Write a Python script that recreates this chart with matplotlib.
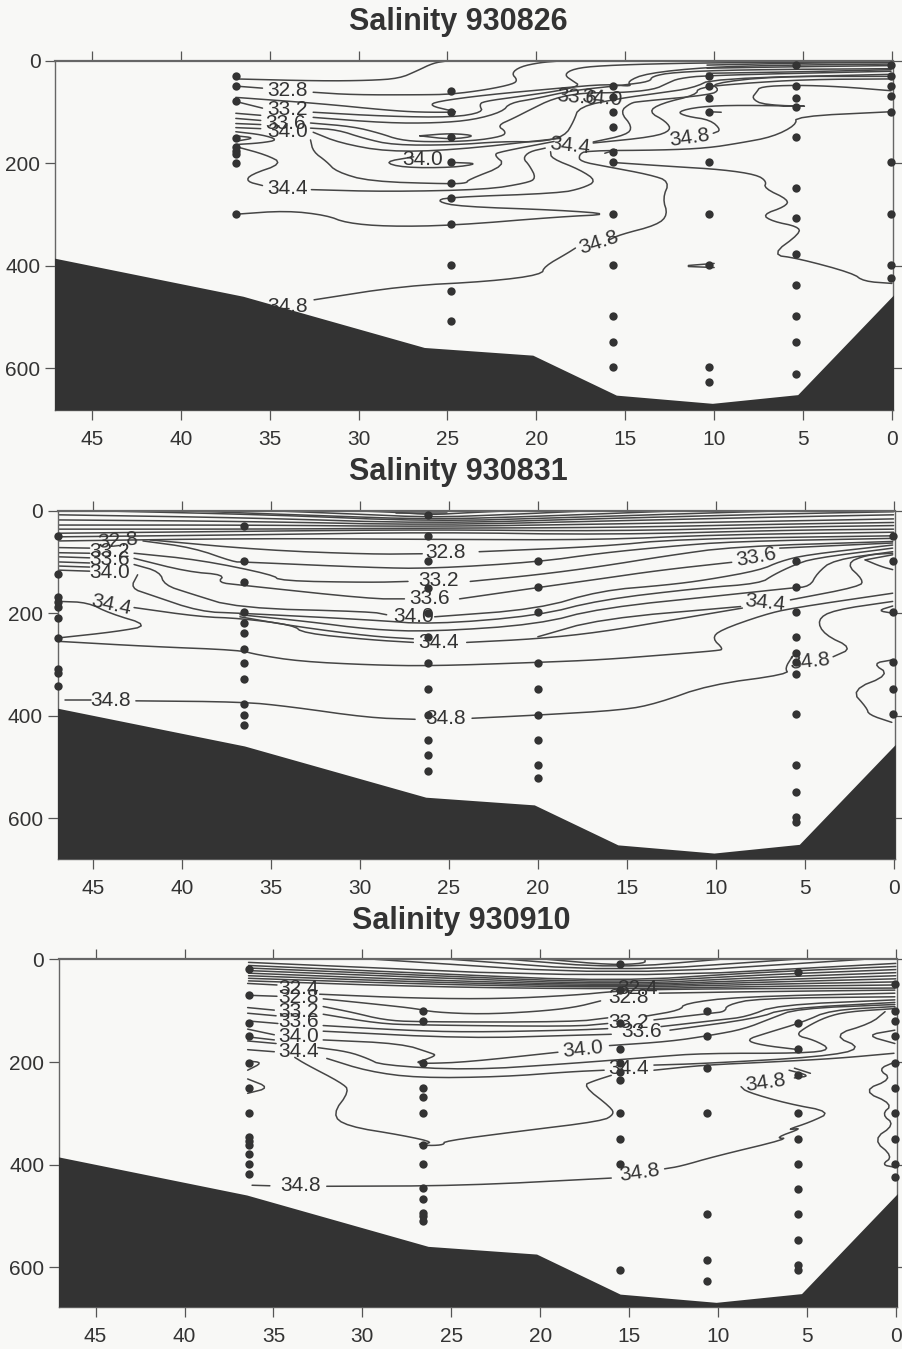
import numpy as np
import matplotlib
matplotlib.use("Agg")
import matplotlib.pyplot as plt

plt.rcParams['font.family'] = ['Liberation Sans', 'DejaVu Sans']

INK = '#333333'
LINE = '#454545'
PAPER = '#f8f8f6'
W, H = 903, 1349

TITLES = ['Salinity 930826', 'Salinity 930831', 'Salinity 930910']
KM_TICKS = [45, 40, 35, 30, 25, 20, 15, 10, 5, 0]
DEPTH_TICKS = [0, 200, 400, 600]
BOTTOM_KM = [47.2, 36.5, 26.3, 20.2, 15.5, 10.1, 5.3, -0.1]
BOTTOM_DEPTH = [384, 459, 559, 574, 652, 668, 651, 456]

# station samples: km -> depths
ST1 = {36.9: [30, 49, 79, 150, 167, 175, 181, 200, 299],
       24.8: [58, 99, 149, 198, 238, 268, 318, 398, 449, 507],
       15.7: [49, 70, 99, 128, 178, 198, 298, 398, 497, 548, 598],
       10.3: [29, 48, 73, 99, 198, 299, 398, 598, 627],
       5.4: [8, 48, 73, 89, 148, 248, 307, 377, 437, 497, 548, 610],
       0.05: [8, 29, 48, 68, 99, 198, 298, 398, 423]}
ST2 = {47.0: [49, 124, 169, 179, 187, 209, 249, 308, 317, 343],
       36.5: [30, 99, 140, 198, 220, 238, 269, 298, 328, 378, 399, 418],
       26.2: [8, 49, 99, 150, 200, 247, 298, 347, 399, 448, 477, 507],
       20.0: [99, 148, 197, 298, 347, 399, 448, 497, 522],
       5.5: [98, 148, 198, 247, 277, 295, 319, 397, 496, 548, 597, 607],
       0.05: [49, 98, 197, 296, 347, 397]}
ST3 = {36.4: [19, 70, 125, 150, 202, 250, 299, 347, 354, 362, 379, 398, 418],
       26.6: [101, 120, 201, 250, 269, 299, 361, 398, 445, 466, 494, 499, 509],
       15.5: [10, 60, 124, 174, 201, 220, 235, 299, 349, 398, 605],
       10.6: [101, 150, 211, 299, 496, 585, 626],
       5.5: [24, 125, 175, 225, 299, 349, 398, 447, 496, 546, 596, 606],
       0.05: [49, 101, 120, 150, 202, 250, 299, 349, 398, 424]}

# isohalines as (km, depth); None breaks the line where a label sits
C1 = [
 [(36.9,35),(32.2,39),(29.4,38),(27.7,34),(26.7,19),(25.8,4),(25.05,0)],
 [(36.9,49),(35.4,53),None,(32.55,61),(30.3,66),(26.55,66),(24.8,65),(22.8,56),(21.3,45),(21.06,37),(21.4,24),(20.9,11),(19.8,3),(18.7,0)],
 [(36.9,71),(32.2,83),(28.4,96),(26.55,100),(24.4,100),(24.8,97),(26,87),(25.6,79),(22.8,66),(18.7,53),(16,45),(14.6,50),(14.9,40),(13.8,24),(10.4,12),(6,8),(0.05,6)],
 [(36.9,79),(35.4,92),None,(32.55,100),(28.4,108),(24.7,110),(23,100),(23.2,86),(23,79),(20.9,69),(18.7,58),(17.55,48),(17.9,40),(18.45,27),(17.9,15),(16.4,9),(12.3,4.5),(6.7,2.6),(0.05,1.3)],
 [(36.9,102),(35.5,106),None,(32.55,110),(28.4,121),(25.6,121),(23.55,115),(21.9,99),(21.5,82),(20,73),(18.7,63),(17.55,56),(15.1,47),(13.6,40),(13.5,30),(12.3,22),(8.55,17),(0.05,15)],
 [(36.9,112),(35.5,116),None,(32.7,121),(30.3,128),(28.8,141),(27.7,154),(26.2,158),(23.55,156),(21.9,147),(21.7,138),(22.2,126),(21.3,112),(20.4,96),(19.05,73),(17.4,62),(15.3,62),(13.4,56),(12.6,43),(12,34),(10.4,28),(0.05,20)],
 [(36.9,122),(35.5,124),None,(32.7,131),(31.2,134),(29.7,151),(28.05,164),(24.7,164),(21.9,157),(19.8,158),(18.4,147),(17.9,118),(17.6,89),(15.3,73),(13.2,63),(11.2,53),(10.05,34),(0.05,26)],
 [(36.9,130),(35.5,132),None,(32.55,139),(31.05,160),(28.4,177),(24.7,174),(18.7,151),None,(16.8,158),(14.9,144),(14.6,128),(15.3,99),(14.7,82),(14.2,79),(10.2,66),(9.7,56),(10.2,44),(6.7,30),(0.05,30)],
 [(16.8,160),(13.4,148),(12.4,135),(12.7,118),(13.7,99),(13,83),(11,66),(10.9,52),(8.55,44),(4.8,36),(0.05,35)],
 [(10.4,8),(5,4),(0.05,3)],[(10.4,14),(5,11),(0.05,9)],[(10.4,24),(5,21),(0.05,17)],
 [(0.05,58),(2.9,50),(5.4,47),(7.4,50),(7.6,60),(7.9,73),(7.2,86),(4.05,89),(8.55,86),(10.8,89),(12.1,99),(11.55,108),(10.2,115),(9.6,135),(10.05,141)],
 [(0.05,99),(5.4,108),(5.4,125),(6.7,148),(8.55,160),(10.4,170),(13,174),(17.2,175),(17.6,183),(17.55,196),(16.05,206),(13.6,222),(12.5,235),(12.9,268),(12.6,300),(13.2,320),(15.3,339),(15.9,349),None,(17.8,365),(18.25,375),(19.55,401),(19.7,417),(22.6,430),(27.5,439),(32.5,466)],
 [(15.7,198),(12.3,206),(9.5,212),(7.6,222),(7.05,235),(7.2,248),(5.8,271),(6,284),(7.3,300),(6.7,313),(5.3,323),(5.15,336),(6.8,378),(5.3,385),(2.2,414),(1.6,430),(0,434)],
 [(36.9,299),(34.05,292),(31.8,301),(30.7,316),(28.4,323),(24.7,321),(18.7,304),(15.7,299),(18.7,291),(24.3,284),(25.6,274),(25.05,266),(18.7,258),(17.4,248),(16.6,234),(17.55,212),(19.15,190),(19.2,177)],
 [(32.65,251),(28.4,255),(22.8,251),(20.55,238),(20,229),(20.4,203),(20.75,190),(20.4,177),(19.5,170)],
 [(35.4,243),(36.3,235),(36.1,222),(34.25,200),(35.2,183),(36.9,167)],
 [(32.7,154),(32.55,177),(31.8,196),(31.25,216),(29.4,235),(24.8,240),(23.9,238),(23.85,232),(21.7,203),(22.4,183),(22,177),(19,157)],
 [(36.9,163),(35.5,160),(34.5,154),(35.4,144),(36.9,138)],
 [(36.9,146),(35.8,150),(36.8,156)],
 [(26.55,146),(24.8,141),(23.3,146),(24.8,153),(26.55,146)],
 [(26.9,187),(28.6,197),(27.5,208),(24.7,208),(23.2,200),(24.7,198)],
 [(11.45,399),(10,395)],[(11.45,401),(10,403)],
 [(10.3,99),(9.6,100)],[(16.15,180),(15.5,173)],
]
C2 = [
 [(30.5,0),(28,3),(26,8),(24,4),(21.5,0)],
 [(28,5),(25.1,5)],
 [(35,0),(30,7),(26,13),(22,8),(17,0)],
 [(40,0),(32,10),(26,17),(20,11),(12,0)],
 [(45,0),(35,8),(26,21),(18,13),(10,4),(6,0)],
 [(47,8),(36,14),(26,25),(16,15),(6,6),(0,2)],
 [(47,18),(36,21),(26,28),(16,20),(6,12),(0,8)],
 [(47,28),(36,28),(26,31),(16,26),(6,20),(0,16)],
 [(47,36),(36,36),(26,34),(16,33),(6,26),(0,23)],
 [(47,44),(36,40),(26,37),(16,40),(6,32),(0,29)],
 [(47,51),(36,47),(26,42),(16,47),(6,38),(0,36)],
 [(46.9,59),(36,54),(26,56),(16.5,57),(10,47),(0,42)],
 [(46.9,72),(45.2,73),None,(41.8,57),(35.4,77),(29.4,85),(26.5,84),None,(23.3,80),(16.5,70),(12,55),(0,49)],
 [(46.9,82),(45.2,83),None,(42.2,59),(39.4,72),(37.1,100),(36.6,100),(29.4,111),(26,113),(20,100),(16.5,83),(12.75,70),(9,60),(0.05,54)],
 [(46.9,90),(45.2,92),None,(42.7,83),(39,96),(34.9,125),(34.5,137),(29.4,140),(27.3,138),None,(23.8,138),(20,125),(16.5,109),(12.75,88),(9,70),(0.05,60)],
 [(46.9,100),(45.2,102),None,(42.7,93),(39.7,119),(37.6,125),(38,140),(36.75,145),(29.4,172),(27.5,172),None,(24.4,172),(20,150),(16.5,133),(13.1,116),(9.1,100.7),None,(6.4,73),(0.05,63)],
 [(46.9,108),(45.2,110),None,(42.7,105),(41.25,119),(41,145),(39.6,161),(36.9,190),(29.4,197),(28.5,203),None,(25.8,207),(20,192),(16.5,156),(12.75,145),(10.5,135),(7.5,116),(6.4,99),(4.9,86),(0.05,67)],
 [(46.9,116),(45.2,118),None,(42.5,125),(42.9,151),(41.8,164),(39,197),(36.75,200),(29.4,213),(26,222),(20,205),(16.5,174),(10.9,151),(7.5,142),(6.75,125),(5.6,106),(4.5,93),(0.05,73)],
 [(36.75,203),(33,216),(29.4,232),(26,236),(20,222),(16.5,190),(9,163),(5.8,151),(4.7,148),(4.3,122),(3.4,96),(0.05,80)],
 [(36.75,207),(33.6,226),(29.4,245),(27,250),None,(20,246),(16.5,211),(8.6,187),None,(5.8,174),(1.9,148),(1.7,135),(2.7,103),(1.5,86),(0.05,83)],
 [(42.7,189),(39,207),(36.75,210),(33.75,223),(33.2,239),(29.4,252),(27,257),None,(24,257),(20,250),(16.5,237),(12.75,215),(8.5,190)],
 [(1.6,96),(0.7,109),(0.05,115)],[(1.6,96),(0.05,86)],
 [(46.9,177),(45.3,179),(44.1,200),(41.8,224),(43.7,236),(46.9,248)],
 [(46.9,255),(41.8,265),(36.75,272),(35.8,281),(33.4,294),(29.4,301),(26,303),(20,296),(16.5,291),(12.75,281),(9.9,273),(9.56,270),(10.2,249),(9.75,233),(7.3,203),(5.7,190),(0.05,161)],
 [(46.6,369),(45.1,369),None,(42.6,371),(36.6,373),(34,382),(29.5,404),(26.9,407),None,(23.7,405),(20.1,399),(15.2,389),(13.3,376),(10.4,340),(5.9,319),(6.1,307),(5.7,285)],
 [(0.05,177),(3.4,194),(4.3,213),(3.9,242),(2.3,268),(3.4,285)],
 [(0.05,291),(1.2,298),(0.2,320),(2.4,350),(1.5,385),(1.4,398),(0.1,413)],
 [(0.05,186),(0.9,195),(0.05,200)],
]
C3 = [
 [(19.6,0),(16,11),(14.1,8),(14.1,0)],
 [(21.8,0),(15.7,17),(9.9,0)],
 [(25,0),(15.7,24),(5.7,0)],
 [(29.3,0),(15.7,31),(1.8,0)],
 [(36.4,6),(15.7,37),(0,8)],
 [(36.4,12),(26,28),(15.7,43),(8,26),(0,14)],
 [(36.4,17),(26,32),(15.7,46),(8,31),(0,20)],
 [(36.4,22),(26,36),(15.7,49),(8,36),(0,26)],
 [(36.4,27),(26,41),(15.7,51),(8,41),(0,32)],
 [(36.4,32),(26,45),(15.7,53),(8,45),(0,38)],
 [(36.4,37),(26,49),(15.7,55),(8,49),(0,44)],
 [(36.4,42),(26,54),(15.7,58),(8,53),(0,50)],
 [(36.45,47),(34.8,50),None,(32.4,68),(26.9,76),(22.2,77),(18.1,70),(15.7,62),(13,58),(0.05,56)],
 [(36.45,70),(34.8,72),None,(32.2,77),(28.8,89),(27,96),(25.95,103),(23.3,107),(20.3,102),(18.1,94),(16.6,81),None,(13.3,66),(8,63),(0.05,60)],
 [(36.45,94),(34.95,99),None,(32.2,92),(30.6,103),(28.8,118),(27,122),(18.1,122),(16.2,114),None,(14.1,111),(12.1,99),(11.9,86),(8.9,73),(0.05,66)],
 [(36.45,105),(34.85,110),None,(32.2,107),(29.1,125),(26.9,128),(18.1,131),(16.2,125),None,(13.6,118),(10.4,105),(9.6,102),(9.5,89),(7.8,76),(0.05,73)],
 [(36.45,120),(34.75,125),None,(32.2,129),(27.8,138),(24.1,142),(18.1,138),(16.2,135),None,(13.2,131),(9.9,118),(8.4,112),(6.7,89),(0.05,79)],
 [(36.45,136),(34.95,147),None,(32.2,140),(24.1,154),(18.1,148),(16,146),None,(12.7,138),(7.8,115),(6.3,96),(0.05,84)],
 [(36.45,151),(34.95,157),None,(32.2,157),(27.8,164),(26.1,183),(25.85,187),(26.5,196),(27,201),(26.4,203),(24.1,200),(19,181),None,(16.1,168),(12.7,160),(10.4,148),(8.55,136),(7,115),(5.55,96),(0.05,88)],
 [(0.05,92),(3.7,99),(5.2,122),(7.3,144),(8.45,157),(7.6,167),(5.45,176)],
 [(0.05,96),(2.7,102),(3.9,112),(5,131),(5.65,148),(4.6,157),(3.6,176),(5.2,183),(10.8,183),(13.6,190),(18.3,203),(24.1,216),(28.95,206),(29.7,193),(30.8,180),(32.5,172)],
 [(36.45,159),(34.85,164)],
 [(0.6,102),(1.4,125),(3.6,148),(1.8,174),(4.2,190),(10.8,203),(13.6,206),None,(16.4,216),(18.3,219),(22.2,229),(26.9,231),(29.7,218),(32,193)],
 [(36.45,176),(34.95,180)],
 [(0.05,138),(1.7,148),(0.05,164)],
 [(0.1,183),(3.3,193),(7,200),(10.8,206),(13.6,216),None,(16,226),(17,237),(17.6,246),(16,289),(15.85,302),(16.5,315),(21.2,335),(25.4,354),(25.4,361),(26.2,363),(27,360),(25.9,357),(27.7,343),(30.9,325),(31.7,302),(30.7,256),(31.2,240),(33.2,204),(33.8,191)],
 [(8.7,248),(8.4,258),(6.1,281),(3.6,297),(4.8,317),(6.2,333),(5.2,328),(6.8,348),(6,349),(10.2,384),(12.1,403),(13,408),None,(16,426),(24.4,441),(32,442),None,(35.2,441),(36.2,440)],
 [(6,216),(4.8,227),(5.7,231)],[(5.7,212),(4.8,222)],
 [(0.05,200),(1,214),(0.2,233),(1.9,256),(0.15,282),(0.8,302),(0.05,322),(1.3,351),(0.15,384),(0.8,400),(0.05,405)],
 [(36.45,198),(35.6,201),(36.45,216)],
 [(36.45,233),(35.2,250),(36.45,261)],
]

# labels: km, depth, text, rotation
L1 = [(34,58,'32.8',0),(34,95,'33.2',0),(34.1,121,'33.6',0),(34,138,'34.0',0),(34,248,'34.4',0),
      (26.4,193,'34.0',0),(34,479,'34.8',0),(17.7,70,'33.6',-5),(16.3,72,'34.0',-5),(18.1,166,'34.4',-6),
      (11.4,150,'34.8',8),(16.5,355,'34.8',18)]
L2 = [(43.6,59,'32.8',5),(44.1,80,'33.2',0),(44.1,96,'33.6',0),(44.1,121,'34.0',0),(44,184,'34.4',-12),
      (44,371,'34.8',0),(25.2,82,'32.8',0),(25.6,137,'33.2',0),(26.1,172,'33.6',0),(27,207,'34.0',0),
      (25.6,258,'34.4',0),(25.2,406,'34.8',0),(7.7,90,'33.6',10),(7.2,180,'34.4',-6),(4.7,295,'34.8',6)]
L3 = [(33.6,56,'32.4',0),(33.6,75,'32.8',0),(33.6,102,'33.2',0),(33.6,122,'33.6',0),(33.6,151,'34.0',0),
      (33.6,180,'34.4',0),(33.5,440,'34.8',0),(14.55,56,'32.4',0),(15.05,75,'32.8',0),(15.05,124,'33.2',0),
      (14.3,141,'33.6',0),(17.6,176,'34.0',6),(15.05,212,'34.4',0),(14.4,416,'34.8',8),(7.3,241,'34.8',8)]

PANELS = [
 dict(box=(55, 893, 61, 410), xlim=(47.07, -0.06), bottom=681, title_xy=(458, 22), st=ST1, c=C1, l=L1, t=TITLES[0]),
 dict(box=(57.6, 895, 510.7, 858.7), xlim=(47.0, -0.08), bottom=679, title_xy=(458, 472), st=ST2, c=C2, l=L2, t=TITLES[1]),
 dict(box=(58.8, 897, 959.3, 1306.7), xlim=(47.07, -0.07), bottom=676.5, title_xy=(461, 921), st=ST3, c=C3, l=L3, t=TITLES[2]),
]


def smooth(pts, n=2):
    p = np.asarray(pts, float)
    for _ in range(n):
        if len(p) < 3:
            return p
        q = [p[0]]
        for a, b in zip(p[:-1], p[1:]):
            q += [0.75 * a + 0.25 * b, 0.25 * a + 0.75 * b]
        q.append(p[-1])
        p = np.array(q)
    return p


fig = plt.figure(figsize=(W / 100, H / 100), dpi=100, facecolor=PAPER)
for P in PANELS:
    x0, x1, y0, y1 = P['box']
    ax = fig.add_axes([x0 / W, 1 - y1 / H, (x1 - x0) / W, (y1 - y0) / H])
    ax.set_facecolor(PAPER)
    ax.set_xlim(*P['xlim'])
    ax.set_ylim(P['bottom'], 0)
    for line in P['c']:
        seg = []
        for pt in line + [None]:
            if pt is None:
                if len(seg) > 1:
                    s = smooth(seg)
                    ax.plot(s[:, 0], s[:, 1], color=LINE, lw=1.1, zorder=2, solid_capstyle='round')
                seg = []
            else:
                seg.append(pt)
    for km, ds in P['st'].items():
        ax.scatter([km] * len(ds), ds, s=36, color='#333333', linewidths=0, zorder=3, clip_on=False)
    for km, d, txt, rot in P['l']:
        ax.text(km, d, txt, fontsize=15, color=INK, ha='center', va='center', rotation=rot, zorder=4)
    ax.fill_between(BOTTOM_KM, BOTTOM_DEPTH, P['bottom'], color='#333333', linewidth=0, zorder=5)
    ax.set_xticks(KM_TICKS)
    ax.set_yticks(DEPTH_TICKS)
    ax.tick_params(axis='both', which='major', direction='out', length=7.5, width=0.9, color='#555555',
                   labelsize=15, labelcolor=INK)
    ax.tick_params(axis='x', top=True, bottom=True, pad=7)
    ax.tick_params(axis='y', left=True, right=True, pad=3)
    for sp in ax.spines.values():
        sp.set_color('#666666')
        sp.set_linewidth(1.0)
    ax.spines['top'].set_linewidth(1.6)
    fig.text(P['title_xy'][0] / W, 1 - P['title_xy'][1] / H, P['t'], fontsize=22, fontweight='bold',
             color=INK, ha='center', va='center')

fig.savefig('out.png', dpi=100, facecolor=PAPER)
